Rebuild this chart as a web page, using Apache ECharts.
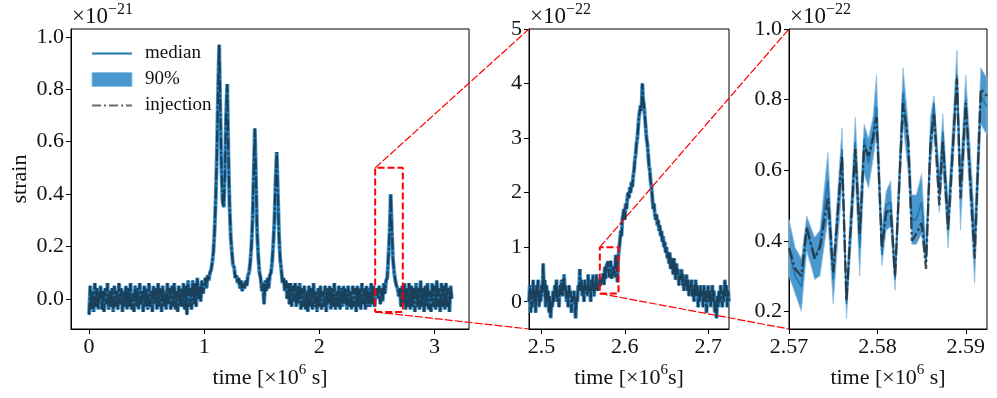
<!DOCTYPE html>
<html>
<head>
<meta charset="utf-8">
<script src="https://cdn.jsdelivr.net/npm/echarts@6/dist/echarts.min.js"></script>
<style>html,body{margin:0;padding:0;background:#fff}#main{width:997px;height:398px}</style>
</head>
<body>
<div id="main"></div>
<script>
// whole run: strain in units of 1e-21, one sample every 0.01 (x1e6 s)
const fullStart = 0
const fullStep = 0.01
const fullStrain = [
  -0.06, 0.05, -0.04, 0.03, -0.05, 0.06, -0.03, 0.04, -0.04, 0.02,
  0.05, -0.04, 0.03, -0.05, 0.04, -0.02, 0.06, -0.04, 0.03, -0.03,
  0.04, -0.05, 0.05, -0.03, 0.03, -0.04, 0.06, -0.02, 0.04, -0.05,
  0.03, -0.03, 0.05, -0.04, 0.04, -0.03, 0.06, -0.04, 0.02, -0.05,
  0.05, -0.03, 0.04, -0.04, 0.06, -0.02, 0.03, -0.05, 0.05, -0.03,
  0.04, -0.04, 0.06, -0.03, 0.03, -0.05, 0.05, -0.02, 0.04, -0.04,
  0.06, -0.03, 0.04, -0.05, 0.05, -0.03, 0.03, -0.04, 0.06, -0.02,
  0.04, -0.04, 0.05, -0.03, 0.06, -0.04, 0.03, -0.05, 0.05, -0.03,
  0.04, -0.03, 0.06, -0.04, 0.05, -0.06, 0.07, -0.03, 0.04, -0.04,
  0.07, -0.02, 0.06, -0.03, 0.08, 0.00, 0.05, -0.01, 0.07, 0.02,
  0.05, 0.08, 0.04, 0.09, 0.07, 0.10, 0.11, 0.14, 0.18, 0.26,
  0.38, 0.55, 0.78, 0.97, 0.72, 0.50, 0.37, 0.35, 0.48, 0.70,
  0.82, 0.55, 0.36, 0.24, 0.18, 0.13, 0.12, 0.08, 0.09, 0.06,
  0.08, 0.04, 0.07, 0.03, 0.06, 0.04, 0.07, 0.05, 0.09, 0.10,
  0.14, 0.20, 0.30, 0.48, 0.65, 0.45, 0.25, 0.16, 0.10, 0.08,
  0.03, 0.06, -0.02, 0.07, 0.03, 0.08, 0.04, 0.09, 0.10, 0.14,
  0.21, 0.30, 0.45, 0.56, 0.40, 0.24, 0.15, 0.11, 0.06, 0.08,
  0.03, 0.07, 0.00, 0.06, -0.02, 0.06, -0.03, 0.05, -0.01, 0.06,
  -0.03, 0.05, -0.02, 0.06, -0.04, 0.04, -0.03, 0.05, -0.04, 0.03,
  -0.05, 0.05, -0.03, 0.04, -0.04, 0.06, -0.03, 0.03, -0.05, 0.04,
  -0.03, 0.05, -0.04, 0.03, -0.03, 0.05, -0.05, 0.04, -0.02, 0.05,
  -0.04, 0.04, -0.03, 0.06, -0.04, 0.03, -0.03, 0.05, -0.04, 0.04,
  -0.03, 0.05, -0.02, 0.04, -0.04, 0.05, -0.03, 0.03, -0.04, 0.05,
  -0.03, 0.04, -0.05, 0.05, -0.03, 0.04, -0.04, 0.06, -0.02, 0.04,
  -0.04, 0.05, -0.03, 0.04, -0.03, 0.06, -0.02, 0.05, -0.03, 0.03,
  0.04, 0.00, 0.05, -0.02, 0.04, -0.01, 0.06, 0.02, 0.07, 0.08,
  0.16, 0.25, 0.40, 0.26, 0.15, 0.10, 0.07, 0.05, 0.04, 0.01,
  0.04, -0.03, 0.05, -0.02, 0.06, -0.04, 0.04, -0.03, 0.06, -0.04,
  0.05, -0.03, 0.04, -0.05, 0.06, -0.03, 0.04, -0.04, 0.07, -0.03,
  0.04, -0.05, 0.05, -0.03, 0.06, -0.04, 0.03, -0.05, 0.06, -0.03,
  0.05, -0.04, 0.07, -0.03, 0.04, -0.05, 0.06, -0.03, 0.05, -0.04,
  0.06, -0.03, 0.04, -0.05, 0.05, 0.00
]

// first zoom: strain in units of 1e-22, one sample every 0.001
const midStart = 2.485
const midStep = 0.001
const midStrain = [
  0.0, 0.3, -0.2, 0.2, -0.1, 0.4, 0.0, 0.2, -0.2, 0.3,
  0.1, 0.4, -0.1, 0.2, 0.0, 0.3, 0.1, 0.7, 0.2, 0.4,
  -0.1, 0.3, 0.0, 0.2, -0.2, 0.1, -0.3, 0.0, -0.1, 0.2,
  0.0, 0.3, 0.1, 0.4, 0.0, 0.2, -0.1, 0.3, 0.1, 0.4,
  0.2, 0.1, 0.5, 0.2, 0.3, 0.0, 0.2, -0.1, 0.3, 0.1,
  0.2, -0.2, 0.1, 0.0, 0.2, -0.1, -0.3, 0.1, 0.0, 0.3,
  0.2, 0.6, 0.2, 0.4, 0.1, 0.3, 0.0, 0.4, 0.2, 0.3,
  0.1, 0.5, 0.2, 0.3, 0.0, 0.4, 0.2, 0.5, 0.1, 0.3,
  0.2, 0.5, 0.3, 0.2, 0.4, 0.38, 0.30, 0.44, 0.35, 0.52,
  0.31, 0.64, 0.42, 0.66, 0.68, 0.74, 0.45, 0.48, 0.75, 0.42,
  0.44, 0.66, 0.68, 0.45, 0.86, 0.78, 0.36, 0.80, 0.95, 1.1,
  1.3, 1.2, 1.5, 1.6, 1.7, 1.5, 1.8, 1.7, 1.9, 2.0,
  1.9, 2.1, 2.0, 2.2, 2.1, 2.3, 2.4, 2.6, 2.7, 2.9,
  3.0, 3.2, 3.4, 3.5, 3.6, 3.5, 4.0, 3.7, 3.6, 3.4,
  3.2, 3.0, 2.9, 2.7, 2.5, 2.4, 2.2, 2.1, 1.9, 1.7,
  1.8, 1.6, 1.5, 1.6, 1.4, 1.5, 1.3, 1.4, 1.2, 1.3,
  1.1, 1.2, 1.0, 1.1, 0.9, 1.0, 0.8, 0.9, 0.7, 0.9,
  0.6, 0.8, 0.7, 0.5, 0.8, 0.6, 0.4, 0.7, 0.5, 0.6,
  0.3, 0.5, 0.4, 0.6, 0.3, 0.5, 0.2, 0.4, 0.3, 0.5,
  0.2, 0.4, 0.1, 0.3, 0.2, 0.4, 0.1, 0.3, 0.0, 0.2,
  0.4, 0.1, 0.3, -0.1, 0.2, 0.0, 0.3, 0.1, 0.2, -0.1,
  0.3, 0.0, 0.2, -0.2, 0.1, 0.3, 0.0, 0.2, -0.1, 0.1,
  0.3, 0.0, 0.2, -0.2, 0.0, -0.3, 0.1, -0.1, 0.2, 0.0,
  0.3, 0.1, -0.1, 0.2, 0.0, 0.4, 0.1, 0.3, -0.1, 0.2, 0.0
]

// second zoom: units of 1e-22
const fineTime = [
  2.5700, 2.5707, 2.5714, 2.5720, 2.5726, 2.5729, 2.5735, 2.5744, 2.5750, 2.5760,
  2.5765, 2.5775, 2.5780, 2.5785, 2.5790, 2.5795, 2.5799, 2.5805, 2.5810, 2.5815,
  2.5820, 2.5829, 2.5835, 2.5839, 2.5844, 2.5850, 2.5855, 2.5860, 2.5864, 2.5870,
  2.5874, 2.5880, 2.5890, 2.5894, 2.5900, 2.5910, 2.5917, 2.5924
]
const fineInjection = [
  0.38, 0.32, 0.30, 0.44, 0.38, 0.35, 0.38, 0.52, 0.31, 0.64,
  0.23, 0.66, 0.42, 0.67, 0.64, 0.69, 0.75, 0.38, 0.48, 0.49,
  0.30, 0.79, 0.68, 0.40, 0.42, 0.45, 0.32, 0.67, 0.76, 0.50,
  0.68, 0.43, 0.86, 0.52, 0.79, 0.35, 0.83, 0.81
]
const fineMedian = [
  0.37, 0.30, 0.27, 0.43, 0.38, 0.35, 0.39, 0.57, 0.29, 0.66,
  0.22, 0.68, 0.38, 0.69, 0.62, 0.70, 0.78, 0.36, 0.50, 0.51,
  0.29, 0.82, 0.66, 0.46, 0.46, 0.51, 0.34, 0.69, 0.79, 0.54,
  0.71, 0.45, 0.87, 0.55, 0.80, 0.37, 0.81, 0.78
]
const fineLow = [
  0.30, 0.25, 0.20, 0.37, 0.32, 0.29, 0.30, 0.46, 0.22, 0.56,
  0.18, 0.58, 0.30, 0.59, 0.55, 0.63, 0.70, 0.33, 0.43, 0.44,
  0.26, 0.73, 0.59, 0.39, 0.39, 0.42, 0.32, 0.61, 0.71, 0.48,
  0.61, 0.38, 0.79, 0.43, 0.72, 0.28, 0.73, 0.70
]
const fineHigh = [
  0.46, 0.38, 0.35, 0.47, 0.43, 0.41, 0.43, 0.65, 0.35, 0.72,
  0.28, 0.75, 0.49, 0.73, 0.69, 0.75, 0.87, 0.44, 0.54, 0.57,
  0.34, 0.89, 0.73, 0.53, 0.53, 0.59, 0.39, 0.75, 0.81, 0.60,
  0.76, 0.51, 0.94, 0.61, 0.87, 0.46, 0.89, 0.86
]

// axis limits (the zoom boxes use the next panel's limits)
const fullXRange = [-0.157, 3.3]
const fullYRange = [-0.115, 1.03]
const midXRange = [2.485, 2.725]
const midYRange = [-0.5, 5]
const fineXRange = [2.57, 2.5924]
const fineYRange = [0.15, 1.0]

const fullXTicks = [0, 1, 2, 3]
const fullYTicks = [0, 0.2, 0.4, 0.6, 0.8, 1.0]
const midXTicks = [2.5, 2.6, 2.7]
const midYTicks = [0, 1, 2, 3, 4, 5]
const fineXTicks = [2.57, 2.58, 2.59]
const fineYTicks = [0.2, 0.4, 0.6, 0.8, 1.0]

const font = 'Liberation Serif'
const bandColor = '#4a98cd'
const medianColor = '#1f77b4'
const injColor = '#262626'
const denseColor = '#1b3a4f'
const dashDot = [12, 2.5, 2, 2.5]

const fullPts = fullStrain.map((v, i) => [fullStart + i * fullStep, v])
const midPts = midStrain.map((v, i) => [midStart + i * midStep, v])

function boxPts(xr, yr, k) {
  return [[xr[0], yr[0] / k], [xr[1], yr[0] / k], [xr[1], yr[1] / k], [xr[0], yr[1] / k], [xr[0], yr[0] / k]]
}

const nameRich = {
  a: { fontFamily: font, fontSize: 22, color: '#111', lineHeight: 30 },
  s: { fontFamily: font, fontSize: 15, color: '#111', lineHeight: 18, verticalAlign: 'top' }
}

function axis(grid, range, ticks, digits, name, isY) {
  const a = {
    type: 'value',
    gridIndex: grid,
    min: range[0],
    max: range[1],
    splitLine: { show: false },
    axisLine: { show: true, onZero: false, lineStyle: { color: '#000', width: 1 } },
    axisTick: { show: true, inside: false, length: 5, customValues: ticks, lineStyle: { color: '#000', width: 1 } },
    axisLabel: {
      customValues: ticks,
      formatter: v => v.toFixed(digits),
      color: '#111',
      fontFamily: font,
      fontSize: 22,
      margin: 7
    }
  }
  if (name) {
    a.name = name
    a.nameLocation = 'middle'
    a.nameGap = isY ? 40 : 30
    a.nameTextStyle = { fontFamily: font, fontSize: 22, color: '#111', rich: nameRich }
  }
  return a
}

// dense panels: the band is a wide blue stroke under the median and injection
function dataLines(grid, pts, box) {
  const common = { type: 'line', xAxisIndex: grid, yAxisIndex: grid, symbol: 'none', silent: true, animation: false }
  return [
    { ...common, name: '90%', data: pts, z: 2, lineStyle: { color: bandColor, width: 4 } },
    { ...common, name: 'median', data: pts, z: 3, lineStyle: { color: medianColor, width: 2 } },
    { ...common, name: 'injection', data: pts, z: 4, lineStyle: { color: denseColor, width: 2.2, opacity: 0.9, type: dashDot } },
    { ...common, name: 'zoom', data: box, z: 6, lineStyle: { color: '#ff0000', width: 2, type: [7, 3] } }
  ]
}

const chart = echarts.init(document.getElementById('main'), null, { renderer: 'canvas' })

const option = {
  animation: false,
  backgroundColor: '#fff',
  grid: [
    { left: 71, top: 29, width: 398, height: 300, show: true, borderColor: '#000', borderWidth: 1 },
    { left: 529, top: 29, width: 200, height: 300, show: true, borderColor: '#000', borderWidth: 1 },
    { left: 789, top: 29, width: 198, height: 300, show: true, borderColor: '#000', borderWidth: 1 }
  ],
  xAxis: [
    axis(0, fullXRange, fullXTicks, 0, '{a|time [×10}{s|6}{a| s]}'),
    axis(1, midXRange, midXTicks, 1, '{a|time [×10}{s|6}{a|s]}'),
    axis(2, fineXRange, fineXTicks, 2, '{a|time [×10}{s|6}{a| s]}')
  ],
  yAxis: [
    axis(0, fullYRange, fullYTicks, 1, 'strain', true),
    axis(1, midYRange, midYTicks, 0),
    axis(2, fineYRange, fineYTicks, 1)
  ],
  legend: {
    orient: 'vertical',
    left: 86,
    top: 39,
    itemWidth: 40,
    itemHeight: 14,
    itemGap: 7,
    selectedMode: false,
    textStyle: { fontFamily: font, fontSize: 19, color: '#111', padding: [0, 0, 0, 8] },
    data: [
      { name: 'median', itemStyle: { opacity: 0 }, lineStyle: { width: 2, color: medianColor } },
      { name: '90%', icon: 'rect', itemStyle: { color: bandColor, borderColor: '#8fc2e6', borderWidth: 1 } },
      { name: 'injection', itemStyle: { opacity: 0 }, lineStyle: { width: 2, color: '#6a6a6a', opacity: 1, type: [9, 3, 2, 3] } }
    ]
  },
  series: [
    {
      type: 'custom',
      name: '90%',
      xAxisIndex: 2,
      yAxisIndex: 2,
      silent: true,
      z: 2,
      itemStyle: { color: bandColor },
      data: fineTime.map((t, i) => [t, fineHigh[i]]),
      renderItem(params, api) {
        if (params.dataIndex !== 0) return
        const pts = []
        fineTime.forEach((t, i) => pts.push(api.coord([t, fineHigh[i]])))
        for (let i = fineTime.length - 1; i >= 0; i--) pts.push(api.coord([fineTime[i], fineLow[i]]))
        return {
          type: 'polygon',
          shape: { points: pts },
          style: { fill: bandColor, stroke: '#8fc2e6', lineWidth: 0.8 }
        }
      }
    },
    ...dataLines(0, fullPts, boxPts(midXRange, midYRange, 10)),
    ...dataLines(1, midPts, boxPts(fineXRange, fineYRange, 1)),
    {
      type: 'line', name: 'median', xAxisIndex: 2, yAxisIndex: 2, symbol: 'none', silent: true, z: 3,
      data: fineTime.map((t, i) => [t, fineMedian[i]]),
      lineStyle: { color: medianColor, width: 1.6 }
    },
    {
      type: 'line', name: 'injection', xAxisIndex: 2, yAxisIndex: 2, symbol: 'none', silent: true, z: 4,
      data: fineTime.map((t, i) => [t, fineInjection[i]]),
      lineStyle: { color: injColor, width: 2.4, opacity: 0.75, type: [12, 3, 2.5, 3] }
    }
  ]
}

chart.setOption(option)

// offset labels and the red links between zoom boxes and the next panel
const supRich = {
  a: { fontFamily: font, fontSize: 23, fill: '#111', lineHeight: 30 },
  s: { fontFamily: font, fontSize: 16, fill: '#111', lineHeight: 17, verticalAlign: 'top' }
}
const offsetText = (x, exp) => ({
  type: 'text', left: x, top: 2, z: 50, silent: true,
  style: { text: '{a|×10}{s|' + exp + '}', rich: supRich }
})

const px = (g, pt) => chart.convertToPixel({ gridIndex: g }, pt)
const links = [
  [px(0, [midXRange[0], midYRange[1] / 10]), px(1, [midXRange[0], midYRange[1]])],
  [px(0, [midXRange[0], midYRange[0] / 10]), px(1, [midXRange[0], midYRange[0]])],
  [px(1, [fineXRange[0], fineYRange[1]]), px(2, [fineXRange[0], fineYRange[1]])],
  [px(1, [fineXRange[0], fineYRange[0]]), px(2, [fineXRange[0], fineYRange[0]])]
]

chart.setOption({
  graphic: [
    offsetText(72, '−21'),
    offsetText(530, '−22'),
    offsetText(790, '−22'),
    ...links.map(l => ({
      type: 'line', z: 100, silent: true,
      shape: { x1: l[0][0], y1: l[0][1], x2: l[1][0], y2: l[1][1] },
      style: { stroke: '#ff0000', lineWidth: 1.2, lineDash: [8, 2] }
    }))
  ]
})

window.onresize = () => chart.resize()
</script>
</body>
</html>
